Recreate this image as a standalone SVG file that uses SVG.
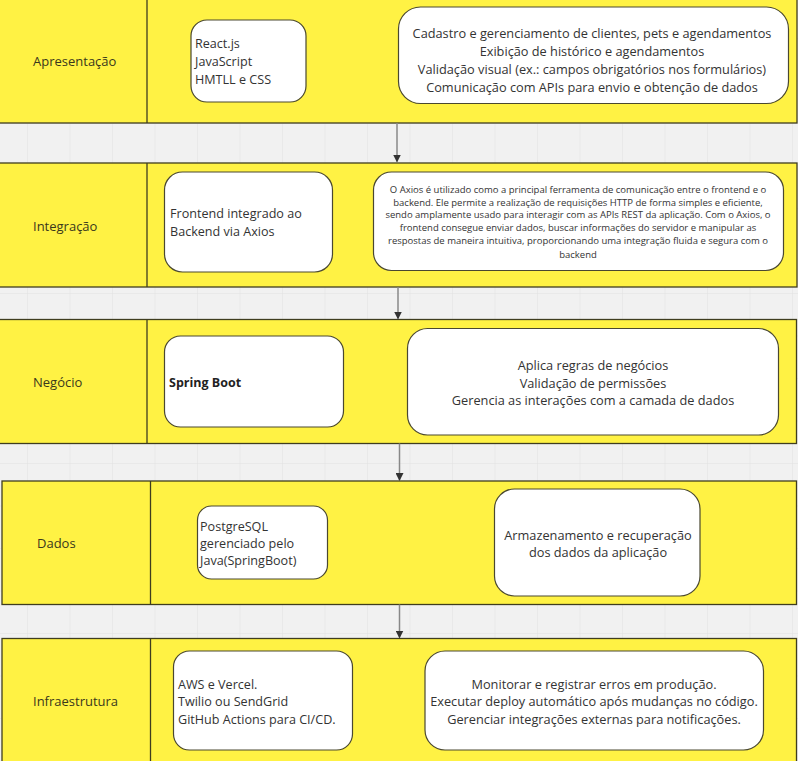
<svg xmlns="http://www.w3.org/2000/svg" width="798" height="761" viewBox="0 0 798 761">
  <defs>
    <pattern id="grid" patternUnits="userSpaceOnUse" x="27" y="38" width="42.5" height="42.5">
      <path d="M0 0 V42.5 M0 0 H42.5" fill="none" stroke="#e1e1e1" stroke-width="1"/>
    </pattern>
    <marker id="arr" markerWidth="8" markerHeight="8" refX="7" refY="4" orient="auto" markerUnits="userSpaceOnUse">
      <path d="M0 0 L8 4 L0 8 Z" fill="#333"/>
    </marker>
    <style>
      .band { fill: #fff244; stroke: #3f3d1f; stroke-width: 1.3; }
      .div { stroke: #3f3d1f; stroke-width: 1.3; }
      .box { fill: #ffffff; stroke: #4a4830; stroke-width: 1.2; }
      .lbl { font-family: "Open Sans", "Noto Sans", sans-serif; font-size: 13px; fill: #3a381c; }
      .t { font-family: "Open Sans", "Noto Sans", sans-serif; font-size: 12.6px; fill: #333; }
      .tc { font-family: "Open Sans", "Noto Sans", sans-serif; font-size: 12.75px; fill: #333; text-anchor: middle; }
      .ts { font-family: "Open Sans", "Noto Sans", sans-serif; font-size: 9.5px; fill: #333; text-anchor: middle; }
      .tb { font-family: "Open Sans", "Noto Sans", sans-serif; font-size: 12.5px; font-weight: bold; fill: #222; }
      .conn { stroke: #888; stroke-width: 1.5; fill: none; }
    </style>
  </defs>
  <rect width="798" height="761" fill="#f1f1f1"/>
  <rect width="798" height="761" fill="url(#grid)"/>

  <g id="band-apresentacao">
    <rect class="band" x="-2" y="-2" width="799" height="125"/>
    <line class="div" x1="147" y1="-2" x2="147" y2="123"/>
    <text class="lbl" x="33" y="66">Apresentação</text>
  </g>
  <g id="band-integracao">
    <rect class="band" x="-2" y="163" width="799" height="124"/>
    <line class="div" x1="147" y1="163" x2="147" y2="287"/>
    <text class="lbl" x="33" y="231">Integração</text>
  </g>
  <g id="band-negocio">
    <rect class="band" x="-2" y="319.5" width="798.5" height="124"/>
    <line class="div" x1="147" y1="319.5" x2="147" y2="443.5"/>
    <text class="lbl" x="33" y="386.5">Negócio</text>
  </g>
  <g id="band-dados">
    <rect class="band" x="2" y="481" width="794.5" height="123.5"/>
    <line class="div" x1="150.5" y1="481" x2="150.5" y2="604.5"/>
    <text class="lbl" x="37" y="547.5">Dados</text>
  </g>
  <g id="band-infra">
    <rect class="band" x="2" y="638.5" width="794.5" height="130"/>
    <line class="div" x1="150.5" y1="638.5" x2="150.5" y2="768"/>
    <text class="lbl" x="33" y="705.5">Infraestrutura</text>
  </g>

  <g id="connectors">
    <line class="conn" x1="397" y1="123" x2="397" y2="161.5" marker-end="url(#arr)"/>
    <line class="conn" x1="398" y1="287" x2="398" y2="318.5" marker-end="url(#arr)"/>
    <line class="conn" x1="399.5" y1="443.5" x2="399.5" y2="480" marker-end="url(#arr)"/>
    <line class="conn" x1="399.5" y1="604.5" x2="399.5" y2="637.5" marker-end="url(#arr)"/>
  </g>

  <g id="node-react">
    <rect class="box" x="191" y="20" width="115" height="82" rx="16"/>
    <text class="t" x="195" y="48">React.js</text>
    <text class="t" x="195" y="66">JavaScript</text>
    <text class="t" x="195" y="84">HMTLL e CSS</text>
  </g>
  <g id="node-apresentacao-desc">
    <rect class="box" x="398.5" y="7" width="390" height="96.5" rx="22"/>
    <text class="tc" x="592" y="38">Cadastro e gerenciamento de clientes, pets e agendamentos</text>
    <text class="tc" x="592" y="55.5">Exibição de histórico e agendamentos</text>
    <text class="tc" x="592" y="74">Validação visual (ex.: campos obrigatórios nos formulários)</text>
    <text class="tc" x="592" y="91.5">Comunicação com APIs para envio e obtenção de dados</text>
  </g>

  <g id="node-axios">
    <rect class="box" x="164.5" y="172" width="168" height="100" rx="18"/>
    <text class="t" x="170" y="218">Frontend integrado ao</text>
    <text class="t" x="170" y="236">Backend via Axios</text>
  </g>
  <g id="node-integracao-desc">
    <rect class="box" x="373.5" y="172" width="410" height="98.5" rx="18"/>
    <text class="ts" x="578" y="192.5">O Axios é utilizado como a principal ferramenta de comunicação entre o frontend e o</text>
    <text class="ts" x="578" y="205.5">backend. Ele permite a realização de requisições HTTP de forma simples e eficiente,</text>
    <text class="ts" x="578" y="218">sendo amplamente usado para interagir com as APIs REST da aplicação. Com o Axios, o</text>
    <text class="ts" x="578" y="230.5">frontend consegue enviar dados, buscar informações do servidor e manipular as</text>
    <text class="ts" x="578" y="244">respostas de maneira intuitiva, proporcionando uma integração fluida e segura com o</text>
    <text class="ts" x="578" y="258">backend</text>
  </g>

  <g id="node-spring">
    <rect class="box" x="164.5" y="336" width="179" height="91" rx="16"/>
    <text class="tb" x="169" y="387">Spring Boot</text>
  </g>
  <g id="node-negocio-desc">
    <rect class="box" x="407.5" y="328.5" width="371" height="106.5" rx="20"/>
    <text class="tc" x="593" y="369.5">Aplica regras de negócios</text>
    <text class="tc" x="593" y="387.5">Validação de permissões</text>
    <text class="tc" x="593" y="404.5">Gerencia as interações com a camada de dados</text>
  </g>

  <g id="node-postgres">
    <rect class="box" x="197.5" y="506" width="130" height="73" rx="14"/>
    <text class="t" x="200" y="530.5">PostgreSQL</text>
    <text class="t" x="200" y="547.5">gerenciado pelo</text>
    <text class="t" x="200" y="565">Java(SpringBoot)</text>
  </g>
  <g id="node-dados-desc">
    <rect class="box" x="494.5" y="489" width="205.5" height="107" rx="20"/>
    <text class="tc" x="598" y="539.5">Armazenamento e recuperação</text>
    <text class="tc" x="598" y="557">dos dados da aplicação</text>
  </g>

  <g id="node-aws">
    <rect class="box" x="173.5" y="651" width="179" height="99" rx="16"/>
    <text class="t" x="178" y="688.5">AWS e Vercel.</text>
    <text class="t" x="178" y="706">Twilio ou SendGrid</text>
    <text class="t" x="178" y="723.5">GitHub Actions para CI/CD.</text>
  </g>
  <g id="node-infra-desc">
    <rect class="box" x="425" y="651" width="338.5" height="99" rx="20"/>
    <text class="tc" x="594" y="688.5">Monitorar e registrar erros em produção.</text>
    <text class="tc" x="594" y="706">Executar deploy automático após mudanças no código.</text>
    <text class="tc" x="594" y="723.5">Gerenciar integrações externas para notificações.</text>
  </g>
</svg>
